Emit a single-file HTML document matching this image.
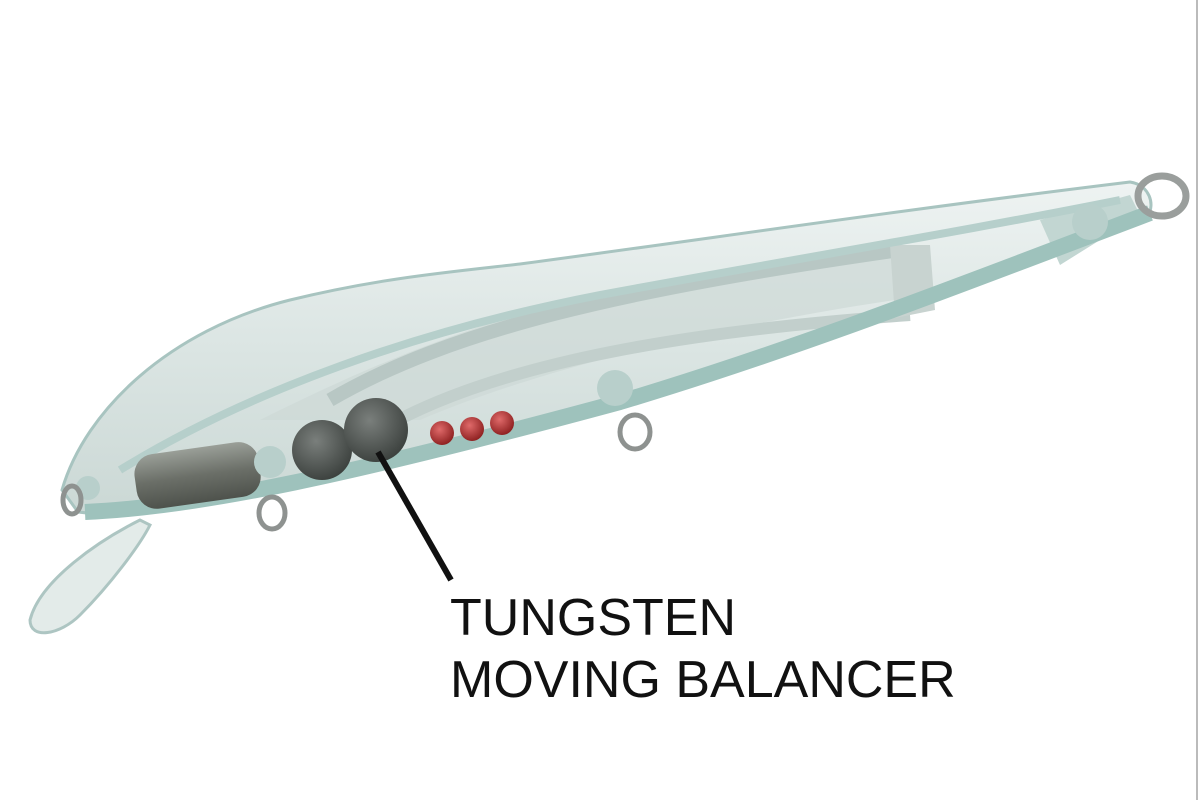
<!DOCTYPE html>
<html><head><meta charset="utf-8"><style>
html,body{margin:0;padding:0;background:#fff;width:1200px;height:800px;overflow:hidden}
</style></head><body>
<svg width="1200" height="800" viewBox="0 0 1200 800" xmlns="http://www.w3.org/2000/svg">
<defs>
<linearGradient id="bd" x1="0" y1="0" x2="0" y2="1">
<stop offset="0" stop-color="#eef3f2"/><stop offset="0.5" stop-color="#dbe5e3"/><stop offset="1" stop-color="#cbd8d5"/></linearGradient>
<radialGradient id="ball" cx="0.4" cy="0.35" r="0.7"><stop offset="0" stop-color="#7a7f7c"/><stop offset="1" stop-color="#3a3f3c"/></radialGradient>
<radialGradient id="red" cx="0.4" cy="0.35" r="0.7"><stop offset="0" stop-color="#e06a6a"/><stop offset="1" stop-color="#8a1d1d"/></radialGradient>
<linearGradient id="cyl" x1="0" y1="0" x2="0" y2="1"><stop offset="0" stop-color="#9a9f98"/><stop offset="0.5" stop-color="#6b6f68"/><stop offset="1" stop-color="#4e524c"/></linearGradient>
</defs>
<line x1="1197" y1="0" x2="1197" y2="800" stroke="#bbb" stroke-width="2"/>
<!-- lip -->
<path d="M140,520 C100,540 40,580 30,620 C30,640 60,635 80,615 C110,585 140,545 150,525 Z" fill="#dfe8e6" stroke="#9fbcb8" stroke-width="3" opacity="0.85"/>
<!-- body -->
<path d="M62,490 C85,410 170,330 290,300 C380,278 450,272 520,264 C700,240 900,210 1130,182 C1150,185 1155,205 1148,215 C960,280 780,350 620,400 C460,450 300,490 200,505 C150,512 110,516 78,512 Z" fill="url(#bd)" stroke="#a8c4c0" stroke-width="3"/>
<!-- internal frame -->
<path d="M260,420 C380,360 520,300 700,275 C800,262 880,255 900,258 L895,300 C760,320 560,360 420,420 Z" fill="#cdd8d5" opacity="0.7"/>
<path d="M330,400 C450,330 620,290 900,250" stroke="#b8c7c4" stroke-width="14" fill="none"/>
<path d="M380,430 C500,360 700,330 910,315" stroke="#c2cfcc" stroke-width="12" fill="none"/>
<path d="M890,245 L930,245 L935,310 L895,318 Z" fill="#c8d3d0"/>
<path d="M1040,220 L1130,195 L1140,215 L1060,265 Z" fill="#c2d6d2"/>
<!-- teal bottom rim -->
<path d="M85,512 C200,507 350,475 620,402 C800,348 960,285 1150,213" stroke="#9ec2bc" stroke-width="16" fill="none"/>
<path d="M120,470 C250,390 420,330 600,295 C800,258 960,232 1120,200" stroke="#b6cfcb" stroke-width="8" fill="none"/>
<!-- cylinder -->
<rect x="135" y="448" width="125" height="55" rx="20" fill="url(#cyl)" transform="rotate(-8 197 475)"/>
<!-- balls -->
<circle cx="322" cy="450" r="30" fill="url(#ball)"/>
<circle cx="376" cy="430" r="32" fill="url(#ball)"/>
<!-- red beads -->
<circle cx="442" cy="433" r="12" fill="url(#red)"/>
<circle cx="472" cy="429" r="12" fill="url(#red)"/>
<circle cx="502" cy="423" r="12" fill="url(#red)"/>
<!-- hook hangers -->
<circle cx="88" cy="488" r="12" fill="#b8cfcb"/>
<ellipse cx="72" cy="500" rx="9" ry="14" fill="none" stroke="#8e9290" stroke-width="5"/>
<circle cx="270" cy="462" r="16" fill="#b8cfcb"/>
<ellipse cx="272" cy="513" rx="13" ry="16" fill="none" stroke="#8e9290" stroke-width="5"/>
<circle cx="615" cy="388" r="18" fill="#b8cfcb"/>
<ellipse cx="635" cy="432" rx="15" ry="17" fill="none" stroke="#8e9290" stroke-width="5"/>
<circle cx="1090" cy="222" r="18" fill="#b8cfcb"/>
<!-- tow eye -->
<ellipse cx="1162" cy="196" rx="24" ry="20" fill="none" stroke="#9a9e9c" stroke-width="7"/>
<!-- leader line -->
<line x1="378" y1="452" x2="451" y2="580" stroke="#111" stroke-width="6"/>
<text x="450" y="635" font-family="Liberation Sans, sans-serif" font-size="52" fill="#111">TUNGSTEN</text>
<text x="450" y="697" font-family="Liberation Sans, sans-serif" font-size="52" fill="#111">MOVING BALANCER</text>
</svg>
</body></html>
